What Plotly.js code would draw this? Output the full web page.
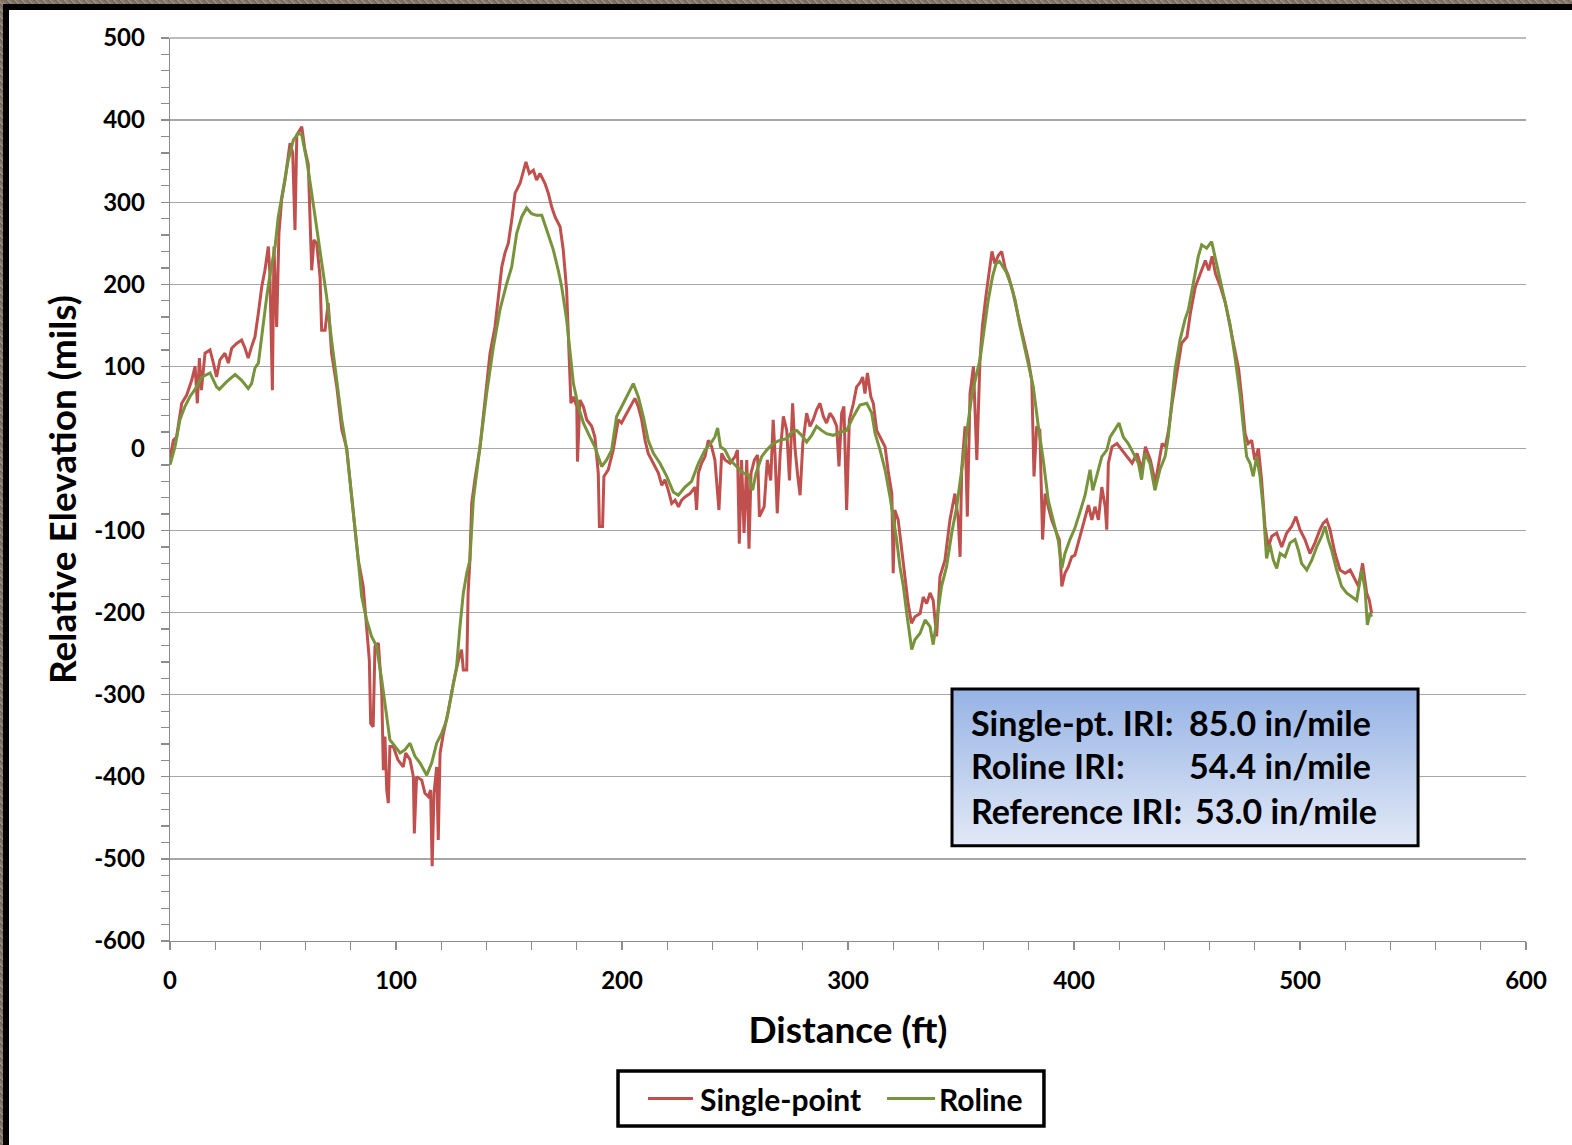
<!DOCTYPE html>
<html>
<head>
<meta charset="utf-8">
<script src="https://cdn.plot.ly/plotly-3.0.1.min.js"></script>
<style>
  html, body { margin: 0; padding: 0; background: #ffffff; }
  #wrap { position: relative; width: 1572px; height: 1145px; overflow: hidden; }
  #chart { position: absolute; left: 0; top: 0; width: 1572px; height: 1145px; }
  .tex { position: absolute; background: repeating-linear-gradient(45deg, #8d8072 0px, #6f6357 2px, #a39585 3px, #7c6f62 5px); }
  .blk { position: absolute; background: #000000; }
</style>
</head>
<body>
<div id="wrap">
  <div id="chart"></div>
  <div class="tex" style="left:0;top:0;width:1572px;height:4px;"></div>
  <div class="tex" style="left:0;top:0;width:3px;height:1145px;"></div>
  <div class="blk" style="left:3px;top:4px;width:1569px;height:6px;"></div>
  <div class="blk" style="left:3px;top:4px;width:6px;height:1141px;"></div>
</div>
<script>
// ---- Data (distance in ft, relative elevation in mils) ----
const singlePointX = [0,1.5,2.9,5.2,7.4,9.6,11.1,12.1,13.0,13.9,15.5,17.7,19.2,20.6,22.1,24.3,25.8,27.3,29.5,31.7,33.2,34.6,36.1,37.6,39.1,40.6,42.0,43.5,44.2,45.3,46.0,47.2,48.2,49.4,50.9,53.1,54.3,55.3,56.1,58.3,59.7,61.2,62.7,63.7,64.9,66.4,67.1,68.6,70.0,71.5,73.8,76.0,78.2,81.1,83.3,85.5,87.0,88.2,88.8,89.9,90.7,92.2,93.7,94.4,95.1,95.9,96.6,97.3,98.8,100.8,103.2,104.3,106.2,107.7,108.1,109.1,111.4,112.8,114.3,115.3,116.0,116.8,118.0,118.7,119.5,121.0,123.2,125.4,127.6,129.0,129.8,131.3,131.9,132.7,133.5,134.9,137.2,139.4,141.6,143.8,145.3,146.8,148.2,149.7,151.2,152.7,154.9,156.3,157.5,159.0,160.8,162.2,163.7,165.9,167.4,168.9,170.4,172.6,174.0,175.5,177.0,177.4,178.5,180.0,180.3,181.4,182.9,184.4,186.6,188.0,189.5,190.0,191.4,192.0,193.9,196.1,198.4,199.8,201.3,202.8,204.3,205.7,207.2,208.7,210.2,211.6,213.1,214.6,216.1,217.6,219.0,220.5,222.0,223.5,225.0,226.4,227.9,230.1,232.3,233.0,233.8,235.2,236.7,238.2,239.7,241.1,242.9,244.1,245.6,247.8,250.0,251.1,251.9,252.9,254.0,255.2,256.2,257.1,258.6,260.0,260.8,262.9,264.3,265.8,266.9,267.7,268.7,270.0,271.4,272.9,274.1,275.5,276.5,277.7,278.8,280.0,281.7,283.2,284.6,286.1,287.6,289.1,290.5,292.0,293.5,295.0,296.0,297.2,298.2,299.4,300.6,302.4,303.8,305.3,306.5,307.5,308.6,310.1,311.2,312.7,314.9,316.4,317.9,319.4,320.0,320.7,322.2,323.7,325.1,326.6,328.1,329.6,331.9,333.3,334.8,336.3,337.7,339.2,340.7,342.9,345.1,347.3,348.8,349.6,350.3,351.8,352.8,354.0,355.5,357.0,358.4,359.5,361.0,362.5,363.7,365.0,366.5,368.0,369.5,371.0,373.0,375.0,377.0,379.8,381.3,382.3,383.5,384.9,386.1,387.2,388.6,390.1,392.3,393.5,394.6,396.0,397.5,399.0,400.4,401.9,403.4,404.9,406.4,407.9,409.3,410.8,412.3,413.8,414.5,415.2,416.8,419.0,421.2,423.5,425.7,427.9,430.1,431.6,433.8,436.0,437.5,439.0,440.4,441.9,443.4,445.6,447.6,450.0,451.5,453.7,455.9,458.1,459.6,461.1,462.6,464.8,467.0,469.2,471.4,472.9,474.3,475.7,477.1,478.6,480.0,481.6,483.0,484.5,486.0,487.5,489.7,491.9,494.1,496.3,498.2,500.0,502.2,504.4,506.6,508.8,510.3,511.8,513.3,515.5,517.7,520.0,522.2,524.4,525.9,527.7,529.5,530.7,531.7];
const singlePointY = [-12,10,14,55,65,83,100,55,110,71,116,120,104,87,108,116,104,122,128,132,122,110,124,136,165,197,217,246,213,71,246,148,262,303,327,372,360,266,382,392,364,346,217,254,250,209,144,144,177,116,75,23,0,-75,-136,-168,-217,-258,-335,-339,-241,-237,-298,-392,-351,-416,-432,-363,-363,-379,-388,-371,-379,-400,-469,-400,-404,-420,-424,-416,-509,-420,-388,-477,-371,-347,-319,-286,-258,-245,-270,-270,-176,-136,-67,-38,2,63,116,148,181,221,238,250,278,311,323,339,349,335,339,327,335,323,311,294,282,270,242,193,100,55,63,51,-16,59,51,35,27,14,-30,-95,-95,-34,-26,-2,35,31,39,47,55,61,51,35,10,-6,-14,-22,-30,-45,-38,-51,-67,-63,-71,-63,-59,-55,-47,-75,-30,-18,-10,10,2,-14,-75,-6,-14,-18,-10,-2,-116,-14,-103,-14,-122,-30,-14,-8,-83,-71,-14,-39,35,-6,-79,-6,39,22,-39,55,2,-32,-57,6,43,27,35,47,55,39,31,43,37,27,-22,43,51,-75,35,55,75,80,87,67,92,63,55,22,10,2,-30,-55,-152,-75,-87,-124,-160,-189,-213,-205,-201,-181,-189,-176,-185,-229,-156,-136,-87,-55,-87,-132,-26,27,-83,67,100,-14,108,150,185,215,240,225,235,240,220,210,190,165,140,108,83,-34,27,22,-111,-55,-71,-87,-103,-111,-168,-152,-144,-132,-130,-115,-101,-85,-69,-87,-71,-87,-47,-71,-99,-18,2,6,-2,-10,-18,-6,-26,2,-14,-42,-18,6,2,23,55,96,128,136,165,197,213,229,217,234,213,197,177,148,116,96,59,18,6,10,-14,0,-38,-95,-120,-107,-103,-120,-103,-95,-83,-99,-111,-128,-115,-99,-91,-87,-99,-128,-148,-152,-148,-160,-168,-140,-176,-185,-201];

const rolineX = [0,2.2,4.4,6.6,8.8,11.8,14.0,17.7,20.6,21.8,25.0,28.8,31.7,34.6,36.1,37.6,39.1,40.6,42.8,44.2,46.5,47.9,50.1,52.3,54.6,56.8,58.3,60.5,62.7,64.9,67.1,69.3,71.5,73.8,76.0,78.2,81.1,83.3,84.8,87.0,89.2,91.4,93.7,95.9,97.3,99.6,101.8,104.0,106.2,108.4,110.6,113.6,115.8,118.0,120.2,122.4,124.6,126.8,128.3,129.8,131.3,132.7,134.2,137.2,140.1,143.1,146.0,149.0,151.2,153.4,155.6,157.8,160.0,162.2,164.5,166.7,169.6,171.8,173.3,175.5,177.0,178.5,180.7,182.9,185.8,188.0,191.0,193.2,195.4,197.6,200.6,202.8,205.0,207.2,209.4,211.6,213.9,216.8,219.8,222.7,224.9,227.9,230.8,233.8,236.7,239.7,241.1,242.3,243.6,245.6,247.8,250.7,253.7,255.9,257.8,259.3,261.8,264.0,266.9,269.9,272.9,275.1,277.3,279.5,281.7,283.9,286.1,288.3,290.5,293.5,296.5,299.4,302.4,305.3,308.3,310.5,312.0,314.2,316.4,318.6,320.0,321.5,323.0,324.5,326.0,327.4,328.2,329.6,331.9,334.1,336.3,337.7,339.2,341.4,343.6,345.9,348.1,350.3,352.5,354.7,357.0,358.4,360.0,362.0,364.0,365.5,367.0,368.5,370.0,372.0,374.0,376.0,378.0,379.1,382.0,384.2,386.4,388.6,390.9,393.1,394.6,396.0,398.2,400.4,402.7,404.9,407.1,408.3,410.0,412.3,414.5,416.0,418.1,419.9,421.8,424.0,426.3,428.5,429.9,431.4,433.6,435.8,438.0,440.3,441.7,443.2,444.7,446.9,449.1,450.6,452.8,455.0,456.5,458.7,460.9,462.4,464.6,466.8,469.0,471.2,473.5,474.9,476.4,477.9,479.3,480.8,482.3,483.8,484.5,485.2,486.7,488.2,489.7,491.2,493.4,495.6,497.8,499.3,500.7,503.0,505.2,507.4,509.6,511.1,512.5,514.0,516.2,518.4,520.6,522.9,525.1,527.3,528.8,529.8,531.0,531.7];
const rolineY = [-20,2,35,51,63,75,87,92,75,72,81,90,83,73,79,98,104,140,185,211,246,282,315,351,376,384,382,351,311,270,230,185,132,79,35,-2,-75,-136,-180,-209,-229,-241,-282,-323,-355,-363,-371,-367,-359,-375,-383,-398,-383,-359,-347,-331,-298,-266,-217,-176,-152,-136,-63,2,67,124,169,201,221,262,282,293,286,284,284,266,242,217,197,157,116,79,51,31,14,2,-22,-14,-2,39,55,67,79,63,39,10,-6,-18,-34,-53,-57,-47,-40,-18,-2,8,14,25,2,-2,-14,-22,-30,-32,-51,-30,-10,-2,6,10,12,20,22,16,8,16,27,22,18,16,20,22,39,53,55,43,18,-2,-26,-59,-83,-111,-144,-168,-201,-233,-245,-233,-225,-209,-217,-239,-209,-168,-144,-103,-71,-26,14,63,92,108,140,180,210,225,228,222,215,200,180,150,125,108,75,27,-14,-63,-89,-113,-146,-128,-111,-97,-77,-57,-26,-51,-34,-10,-2,14,23,31,14,6,-6,-18,-38,-6,-18,-51,-26,-10,14,55,96,132,157,169,201,234,248,244,252,234,205,181,152,112,65,27,-10,-18,-34,-10,-34,-75,-111,-134,-117,-136,-146,-128,-132,-115,-111,-124,-140,-148,-136,-120,-107,-95,-111,-124,-148,-168,-176,-181,-185,-148,-172,-215,-201,-205];

const seriesNames = ['Single-point', 'Roline'];
const seriesColors = ['#c0504d', '#77933c'];
const xTickVals = [0, 100, 200, 300, 400, 500, 600];
const xTickText = ['0', '100', '200', '300', '400', '500', '600'];
const yTickVals = [500, 400, 300, 200, 100, 0, -100, -200, -300, -400, -500, -600];
const yTickText = ['500', '400', '300', '200', '100', '0', '-100', '-200', '-300', '-400', '-500', '-600'];
const iriLabels = ['Single-pt. IRI:', 'Roline IRI:', 'Reference IRI:'];
const iriValues = ['85.0 in/mile', '54.4 in/mile', '53.0 in/mile'];

const FONT = 'Lato, "Open Sans", sans-serif';

const traces = [
  { x: singlePointX, y: singlePointY, type: 'scatter', mode: 'lines', name: seriesNames[0],
    line: { color: seriesColors[0], width: 3 } },
  { x: rolineX, y: rolineY, type: 'scatter', mode: 'lines', name: seriesNames[1],
    line: { color: seriesColors[1], width: 3 } }
];

const gradSvg = "<svg xmlns='http://www.w3.org/2000/svg' width='465' height='156' preserveAspectRatio='none' viewBox='0 0 465 156'><defs><linearGradient id='g' x1='0' y1='0' x2='0' y2='1'><stop offset='0' stop-color='#96b3e5'/><stop offset='1' stop-color='#e2e9f6'/></linearGradient></defs><rect width='465' height='156' fill='url(#g)'/></svg>";

const boxX0 = 0.5767, boxX1 = 0.9204, boxY0 = 0.1055, boxY1 = 0.2790;
const rowY = [0.2425, 0.1938, 0.1450];
const valX = [0.750, 0.750, 0.7544];

// legend geometry (paper coords)
const legBox = { x0: 0.3304, x1: 0.6445, y0: -0.2049, y1: -0.1440 };
const legRowY = -0.1745;
const legLineX = [[0.3525, 0.3857], [0.5288, 0.5642]];
const legTextX = [0.3894, 0.5656];

const annotations = [];
for (let i = 0; i < 3; i++) {
  annotations.push({ xref: 'paper', yref: 'paper', x: 0.5895, y: rowY[i], xanchor: 'left', yanchor: 'middle',
    text: iriLabels[i], showarrow: false, font: { family: FONT, size: 34, color: '#000', weight: 'bold' } });
  annotations.push({ xref: 'paper', yref: 'paper', x: valX[i], y: rowY[i], xanchor: 'left', yanchor: 'middle',
    text: iriValues[i], showarrow: false, font: { family: FONT, size: 34, color: '#000', weight: 'bold' } });
}
for (let i = 0; i < 2; i++) {
  annotations.push({ xref: 'paper', yref: 'paper', x: legTextX[i], y: legRowY, xanchor: 'left', yanchor: 'middle',
    text: seriesNames[i], showarrow: false, font: { family: FONT, size: 30, color: '#000', weight: 'bold' } });
}

const shapes = [
  { type: 'line', xref: 'paper', yref: 'paper', x0: 0, x1: 1, y0: 1, y1: 1,
    line: { color: '#a6a6a6', width: 1.3 }, layer: 'below' },
  { type: 'rect', xref: 'paper', yref: 'paper', x0: boxX0, x1: boxX1, y0: boxY0, y1: boxY1,
    line: { color: '#000', width: 3 }, fillcolor: 'rgba(0,0,0,0)', layer: 'above' },
  { type: 'rect', xref: 'paper', yref: 'paper', x0: legBox.x0, x1: legBox.x1, y0: legBox.y0, y1: legBox.y1,
    line: { color: '#000', width: 3.5 }, fillcolor: '#ffffff', layer: 'above' }
];
for (let i = 0; i < 2; i++) {
  shapes.push({ type: 'line', xref: 'paper', yref: 'paper', x0: legLineX[i][0], x1: legLineX[i][1],
    y0: legRowY, y1: legRowY, line: { color: seriesColors[i], width: 3 }, layer: 'above' });
}

const axisGray = '#8c8c8c';
const layout = {
  width: 1572, height: 1145,
  margin: { l: 170, r: 46, t: 38, b: 204 },
  paper_bgcolor: '#ffffff', plot_bgcolor: '#ffffff',
  showlegend: false,
  font: { family: FONT, color: '#000' },
  xaxis: {
    range: [0, 600], tickmode: 'array', tickvals: xTickVals, ticktext: xTickText,
    ticks: 'outside', ticklen: 8, tickwidth: 1.3, tickcolor: axisGray,
    showline: true, linecolor: axisGray, linewidth: 1.3,
    showgrid: false, zeroline: false,
    ticklabelstandoff: 10,
    tickfont: { family: FONT, size: 24, color: '#000', weight: 'bold' },
    minor: { dtick: 20, tick0: 0, ticks: 'outside', ticklen: 8, tickwidth: 1.3, tickcolor: axisGray, showgrid: false },
    title: { text: 'Distance (ft)', font: { family: FONT, size: 37, color: '#000', weight: 'bold' }, standoff: 24 }
  },
  yaxis: {
    range: [-600, 500], tickmode: 'array', tickvals: yTickVals, ticktext: yTickText,
    ticks: 'outside', ticklen: 8, tickwidth: 1.3, tickcolor: axisGray,
    showline: true, linecolor: axisGray, linewidth: 1.3,
    showgrid: true, gridcolor: '#a6a6a6', gridwidth: 1.3, zeroline: false,
    ticklabelstandoff: 11,
    tickfont: { family: FONT, size: 24, color: '#000', weight: 'bold' },
    minor: { dtick: 20, tick0: 0, ticks: 'outside', ticklen: 8, tickwidth: 1.3, tickcolor: axisGray, showgrid: false },
    title: { text: 'Relative Elevation (mils)', font: { family: FONT, size: 37, color: '#000', weight: 'bold' }, standoff: 6 }
  },
  images: [{
    source: 'data:image/svg+xml;charset=utf-8,' + encodeURIComponent(gradSvg),
    xref: 'paper', yref: 'paper', x: boxX0, y: boxY1, sizex: boxX1 - boxX0, sizey: boxY1 - boxY0,
    xanchor: 'left', yanchor: 'top', sizing: 'stretch', layer: 'above'
  }],
  shapes: shapes,
  annotations: annotations
};

Plotly.newPlot('chart', traces, layout, { displayModeBar: false, staticPlot: true });
</script>
</body>
</html>
